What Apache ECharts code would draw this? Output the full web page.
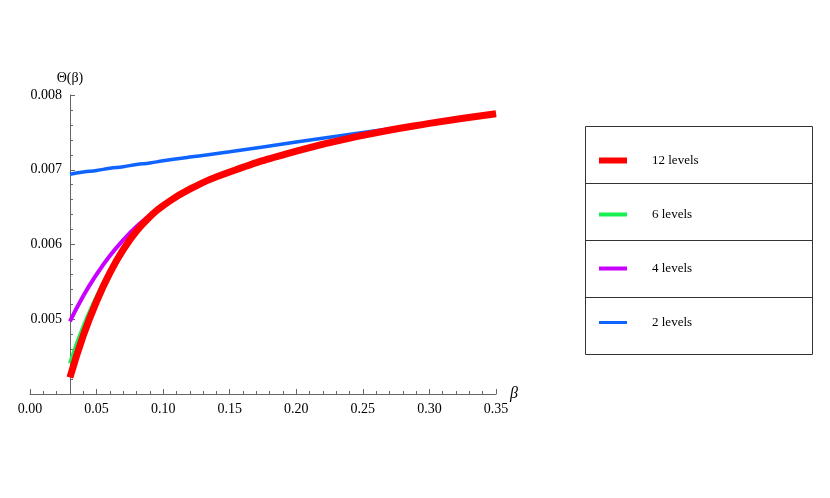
<!DOCTYPE html>
<html>
<head>
<meta charset="utf-8">
<script src="https://cdn.jsdelivr.net/npm/echarts@6/dist/echarts.min.js"></script>
<style>html,body{margin:0;padding:0;background:#fff}#main{width:830px;height:498px}</style>
</head>
<body>
<div id="main"></div>
<script>
// values
var betas = [0.03, 0.04, 0.05, 0.06, 0.07, 0.08, 0.09, 0.10, 0.12, 0.15, 0.20, 0.25, 0.30, 0.35];
var levels12 = [0.00422, 0.00478, 0.00524, 0.00562, 0.00593, 0.00618, 0.00637, 0.00652, 0.00674, 0.00697, 0.00725, 0.00746, 0.00762, 0.00775];
var levels6 = [0.00441, 0.00490, 0.00530, 0.00565, 0.00594, 0.00618, 0.00637, 0.00652, 0.00674, 0.00697, 0.00725, 0.00746, 0.00762, 0.00775];
var levels4 = [0.00497, 0.00531, 0.00560, 0.00585, 0.00606, 0.00624, 0.00639, 0.00652, 0.00674, 0.00697, 0.00725, 0.00746, 0.00762, 0.00775];
var levels2 = [0.00694, 0.00697, 0.00699, 0.00702, 0.00704, 0.00707, 0.00709, 0.00712, 0.00717, 0.00724, 0.00737, 0.00750, 0.00762, 0.00775];
var names = ['12 levels', '6 levels', '4 levels', '2 levels'];

function pts(v) { return betas.map(function (b, i) { return [b, v[i]]; }); }

var chart = echarts.init(document.getElementById('main'));
var font = 'Liberation Serif';
var axisCol = '#666';

option = {
	animation: false,
	textStyle: { fontFamily: font },
	grid: [
		{ left: 30, right: 334, top: 95, bottom: 104 },
		{ left: 70, right: 334, top: 95, bottom: 104 }
	],
	xAxis: [
		{
			type: 'value', gridIndex: 0, min: 0, max: 0.35, interval: 0.05,
			name: 'β', nameLocation: 'end', nameGap: 14,
			nameTextStyle: { fontStyle: 'italic', fontSize: 16, color: '#000' },
			axisLine: { lineStyle: { color: axisCol } },
			axisTick: { inside: true, length: 5, lineStyle: { color: axisCol } },
			minorTick: { show: true, splitNumber: 5, length: 3, lineStyle: { color: axisCol } },
			splitLine: { show: false },
			axisLabel: { color: '#000', fontSize: 14, margin: 8, formatter: function (v) { return v.toFixed(2); } }
		},
		{ type: 'value', gridIndex: 1, show: false, min: 0.03, max: 0.35 }
	],
	yAxis: [
		{ type: 'value', gridIndex: 0, show: false, min: 0.004, max: 0.008 },
		{
			type: 'value', gridIndex: 1, min: 0.004, max: 0.008, interval: 0.001,
			name: 'Θ(β)', nameLocation: 'end', nameGap: 10,
			nameTextStyle: { fontSize: 14, color: '#000', align: 'center' },
			axisLine: { show: true, lineStyle: { color: axisCol } },
			axisTick: { inside: true, length: 5, lineStyle: { color: axisCol } },
			minorTick: { show: true, splitNumber: 5, length: 3, lineStyle: { color: axisCol } },
			splitLine: { show: false },
			axisLabel: {
				color: '#000', fontSize: 14, margin: 8,
				formatter: function (v) { return v <= 0.0041 ? '' : v.toFixed(3); }
			}
		}
	],
	legend: {
		orient: 'vertical', left: 594, top: 149, itemGap: 41, itemWidth: 28, itemHeight: 16,
		textStyle: { fontSize: 13, color: '#000', padding: [0, 0, 0, 20] },
		data: [
			{ name: names[0], icon: 'path://M0,5h28v6h-28z' },
			{ name: names[1], icon: 'path://M0,6h28v4h-28z' },
			{ name: names[2], icon: 'path://M0,6h28v4h-28z' },
			{ name: names[3], icon: 'path://M0,6.5h28v3h-28z' }
		]
	},
	graphic: [
		{ type: 'rect', shape: { x: 585.5, y: 126.5, width: 227, height: 228 }, style: { fill: 'none', stroke: '#333', lineWidth: 1 } },
		{ type: 'line', shape: { x1: 585, y1: 183.5, x2: 812, y2: 183.5 }, style: { stroke: '#333' } },
		{ type: 'line', shape: { x1: 585, y1: 240.5, x2: 812, y2: 240.5 }, style: { stroke: '#333' } },
		{ type: 'line', shape: { x1: 585, y1: 297.5, x2: 812, y2: 297.5 }, style: { stroke: '#333' } }
	],
	series: [
		{ name: names[3], type: 'line', smooth: true, symbol: 'none', z: 2, data: pts(levels2), color: '#0f63ff', lineStyle: { width: 3.5 } },
		{ name: names[2], type: 'line', smooth: true, symbol: 'none', z: 3, data: pts(levels4), color: '#c800ff', lineStyle: { width: 4 } },
		{ name: names[1], type: 'line', smooth: true, symbol: 'none', z: 4, data: pts(levels6), color: '#16f050', lineStyle: { width: 4 } },
		{ name: names[0], type: 'line', smooth: true, symbol: 'none', z: 5, data: pts(levels12), color: '#ff0000', lineStyle: { width: 7 } }
	]
};

chart.setOption(option);
</script>
</body>
</html>
